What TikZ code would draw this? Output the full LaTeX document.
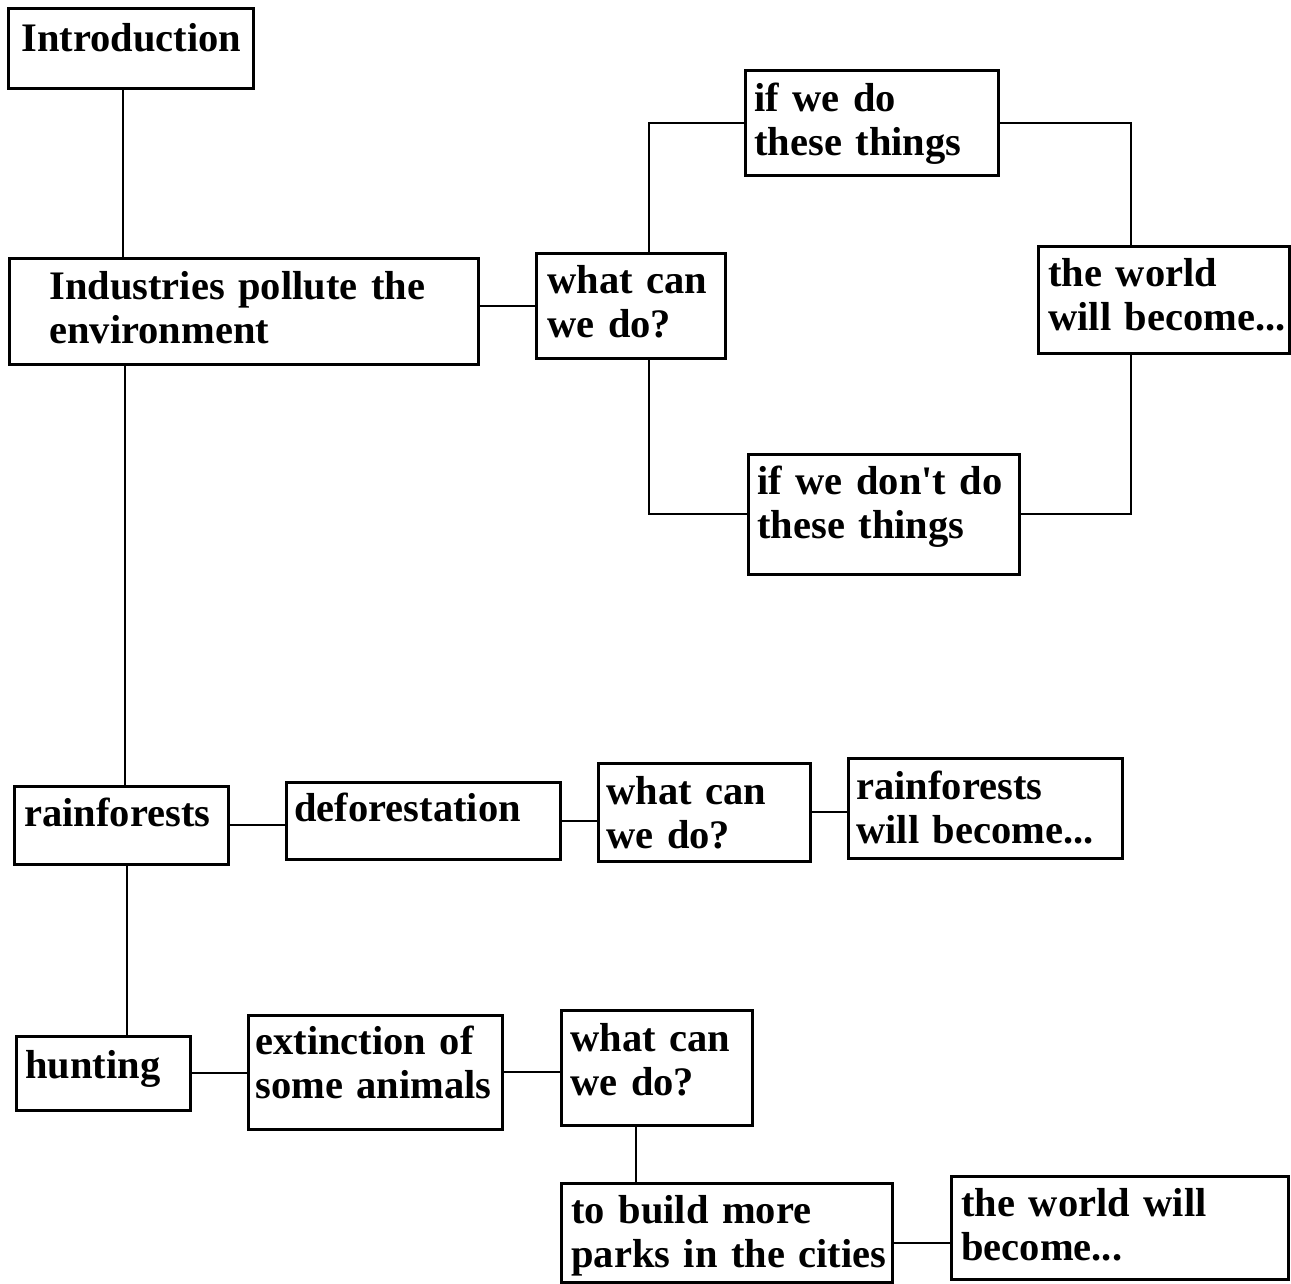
\documentclass[tikz,border=0pt]{standalone}
\usepackage{fontspec}
\setmainfont[WordSpace=0.8]{Liberation Serif}
\tikzset{box/.style={draw,line width=2.6pt,anchor=north west,align=left,inner ysep=0pt,
		font=\bfseries\fontsize{40.5}{44}\selectfont},
	link/.style={draw,line width=2pt}}

\begin{document}
\begin{tikzpicture}[x=1pt,y=-1pt]
\useasboundingbox (0,0) rectangle (1291,1283);
% top branch
\node [box,inner xsep=13pt,text width=219pt,text height=43pt,text depth=37pt] (intro) at (7,7) {Introduction};
\node [box,inner xsep=40pt,text width=389pt,text height=41pt,text depth=65pt] (ind) at (8,257) {Industries~pollute~the\\environment};
\node [box,inner xsep=11pt,text width=167pt,text height=40pt,text depth=65pt] (q1) at (535,252) {what~can\\we~do?};
\node [box,inner xsep=9pt,text width=235pt,text height=41pt,text depth=64pt] (ifdo) at (744,69) {if~we~do\\these~things};
\node [box,inner xsep=10pt,text width=231pt,text height=40pt,text depth=67pt] (world) at (1037,245) {the~world\\\mbox{will~become...}};
\node [box,inner xsep=9pt,text width=253pt,text height=40pt,text depth=80pt] (ifnot) at (747,453) {if~we~don\textquotesingle t~do\\these~things};
% rainforests
\node [box,inner xsep=10pt,text width=194pt,text height=40pt,text depth=38pt] (rain) at (13,785) {rainforests};
\node [box,inner xsep=8pt,text width=258pt,text height=39pt,text depth=38pt] (defor) at (285,781) {deforestation};
\node [box,inner xsep=8pt,text width=196pt,text height=41pt,text depth=57pt] (q2) at (597,762) {what~can\\we~do?};
\node [box,inner xsep=8pt,text width=258pt,text height=41pt,text depth=59pt] (rfw) at (847,757) {rainforests\\will~become...};
% hunting
\node [box,inner xsep=9pt,text width=156pt,text height=42pt,text depth=32pt] (hunt) at (15,1035) {hunting};
\node [box,inner xsep=7pt,text width=240pt,text height=39pt,text depth=75pt] (ext) at (247,1014) {extinction~of\\some~animals};
\node [box,inner xsep=9pt,text width=173pt,text height=41pt,text depth=74pt] (q3) at (560,1009) {what~can\\we~do?};
\node [box,inner xsep=10pt,text width=311pt,text height=40pt,text depth=59pt] (build) at (560,1182) {to~build~more\\\mbox{parks~in~the~cities}};
\node [box,inner xsep=10pt,text width=317pt,text height=40pt,text depth=63pt] (wwb) at (950,1175) {the~world~will\\become...};

% connectors
\coordinate (trunk) at (123,0);
\coordinate (trunkb) at (125,0);
\coordinate (trunkc) at (127,0);
\coordinate (loopl) at (649,0);
\coordinate (loopr) at (1131,0);
\coordinate (drop) at (636,0);
\coordinate (cy) at (0,1243);
\draw [link] (intro.south -| trunk) -- (ind.north -| trunk);
\draw [link] (ind.south -| trunkb) -- (rain.north -| trunkb);
\draw [link] (rain.south -| trunkc) -- (hunt.north -| trunkc);
\draw [link] (q1.west -| ind.east) -- (q1.west);
\draw [link] (q1.north -| loopl) |- (ifdo.west);
\draw [link] (ifdo.east) -| (world.north -| loopr);
\draw [link] (world.south -| loopr) |- (ifnot.east);
\draw [link] (q1.south -| loopl) |- (ifnot.west);
\draw [link] (rain.east) -- (rain.east -| defor.west);
\draw [link] (defor.east) -- (defor.east -| q2.west);
\draw [link] (q2.east) -- (q2.east -| rfw.west);
\draw [link] (hunt.east) -- (hunt.east -| ext.west);
\draw [link] (ext.east) -- (ext.east -| q3.west);
\draw [link] (q3.south -| drop) -- (build.north -| drop);
\draw [link] (build.east |- cy) -- (wwb.west |- cy);
\end{tikzpicture}
\end{document}
